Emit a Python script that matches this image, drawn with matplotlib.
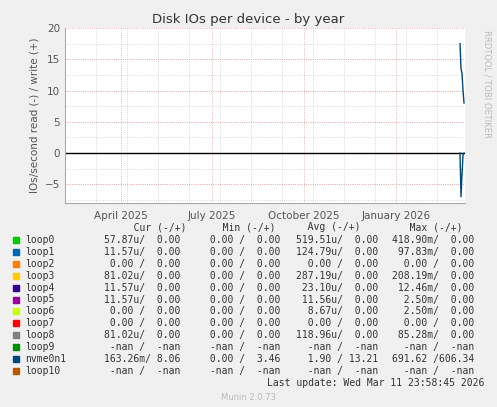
import matplotlib.pyplot as plt
import numpy as np

# days relative to Mar 11 2026 (right edge)
tick_days = [-344, -253, -161, -69]
tick_labels = ['April 2025', 'July 2025', 'October 2025', 'January 2026']

nvme_days = [-5, -4, -3, -2, -1]
nvme_write = [17.5, 13.5, 12.8, 10.0, 8.0]
nvme_read = [0.0, -7.0, -3.5, -0.3, 0.0]

devices = ['loop0', 'loop1', 'loop2', 'loop3', 'loop4', 'loop5', 'loop6', 'loop7',
           'loop8', 'loop9', 'nvme0n1', 'loop10']
colors = ['#00cc00', '#0066b3', '#ff8000', '#ffcc00', '#330099', '#990099',
          '#ccff00', '#ff0000', '#808080', '#008f00', '#00487d', '#b35a00']
cur = ['57.87u/  0.00', '11.57u/  0.00', ' 0.00 /  0.00', '81.02u/  0.00',
       '11.57u/  0.00', '11.57u/  0.00', ' 0.00 /  0.00', ' 0.00 /  0.00',
       '81.02u/  0.00', ' -nan /  -nan', '163.26m/ 8.06', ' -nan /  -nan']
mins = [' 0.00 /  0.00'] * 9 + [' -nan /  -nan', ' 0.00 /  3.46', ' -nan /  -nan']
avgs = ['519.51u/  0.00', '124.79u/  0.00', '  0.00 /  0.00', '287.19u/  0.00',
        ' 23.10u/  0.00', ' 11.56u/  0.00', '  8.67u/  0.00', '  0.00 /  0.00',
        '118.96u/  0.00', '  -nan /  -nan', '  1.90 / 13.21', '  -nan /  -nan']
maxs = ['418.90m/  0.00', ' 97.83m/  0.00', '  0.00 /  0.00', '208.19m/  0.00',
        ' 12.46m/  0.00', '  2.50m/  0.00', '  2.50m/  0.00', '  0.00 /  0.00',
        ' 85.28m/  0.00', '  -nan /  -nan', '691.62 /606.34', '  -nan /  -nan']

W, H = 497, 407
fig = plt.figure(figsize=(W / 100, H / 100), dpi=100, facecolor='#f0f0f0')
ax = fig.add_axes([65 / W, 1 - 203 / H, 400 / W, 175 / H])
ax.set_facecolor('white')
ax.set_xlim(-400, 0)
ax.set_ylim(-8, 20)

for d in range(-400, 0, 31):
    ax.axvline(d, color='#cccccc', lw=0.6, ls=':')
for y in np.arange(-7.5, 20, 2.5):
    ax.axhline(y, color='#cccccc', lw=0.6, ls=':')
for d in tick_days:
    ax.axvline(d, color='#e8a0a0', lw=0.6, ls=':')
for y in [-5, 5, 10, 15, 20]:
    ax.axhline(y, color='#e8a0a0', lw=0.6, ls=':')
ax.axhline(0, color='black', lw=1)

ax.plot(nvme_days, nvme_write, color=colors[10], lw=1)
ax.plot(nvme_days, nvme_read, color=colors[10], lw=1)

ax.set_xticks(tick_days)
ax.set_xticklabels(tick_labels)
ax.set_yticks([-5, 0, 5, 10, 15, 20])
ax.tick_params(labelsize=7.5, colors='#555555', length=0)
ax.tick_params(axis='x', pad=6)
for s in ['top', 'right']:
    ax.spines[s].set_visible(False)
for s in ['left', 'bottom']:
    ax.spines[s].set_color('#aaaaaa')
ax.set_ylabel('IOs/second read (-) / write (+)', fontsize=7.5, color='#555555')
fig.text(0.5, 1 - 19 / H, 'Disk IOs per device - by year', ha='center', va='center',
         fontsize=9.5, color='#333333')
fig.text(487 / W, 1 - 30 / H, 'RRDTOOL / TOBI OETIKER', rotation=270, va='top',
         ha='center', fontsize=6, color='#bbbbbb')

mono = dict(family='DejaVu Sans Mono', fontsize=7, color='#333333')
y0 = 227
fig.text(116 / W, 1 - y0 / H, '   Cur (-/+)', va='center', **mono)
fig.text(205 / W, 1 - y0 / H, '   Min (-/+)', va='center', **mono)
fig.text(290 / W, 1 - y0 / H, '   Avg (-/+)', va='center', **mono)
fig.text(392 / W, 1 - y0 / H, '   Max (-/+)', va='center', **mono)
for i, dev in enumerate(devices):
    yy = 1 - (240 + 11.9 * i) / H
    fig.patches.append(plt.Rectangle((13 / W, yy - 3 / H), 6 / W, 6 / H,
                                     transform=fig.transFigure, color=colors[i]))
    fig.text(25 / W, yy, dev, va='center', **mono)
    fig.text(180 / W, yy, cur[i], va='center', ha='right', **mono)
    fig.text(280 / W, yy, mins[i], va='center', ha='right', **mono)
    fig.text(378 / W, yy, avgs[i], va='center', ha='right', **mono)
    fig.text(474 / W, yy, maxs[i], va='center', ha='right', **mono)
fig.text(484 / W, 1 - 383 / H, 'Last update: Wed Mar 11 23:58:45 2026', va='center',
         ha='right', **mono)
fig.text(0.5, 1 - 398 / H, 'Munin 2.0.73', ha='center', va='center', fontsize=6,
         color='#bbbbbb')

fig.savefig('out.png', dpi=100, facecolor=fig.get_facecolor())
